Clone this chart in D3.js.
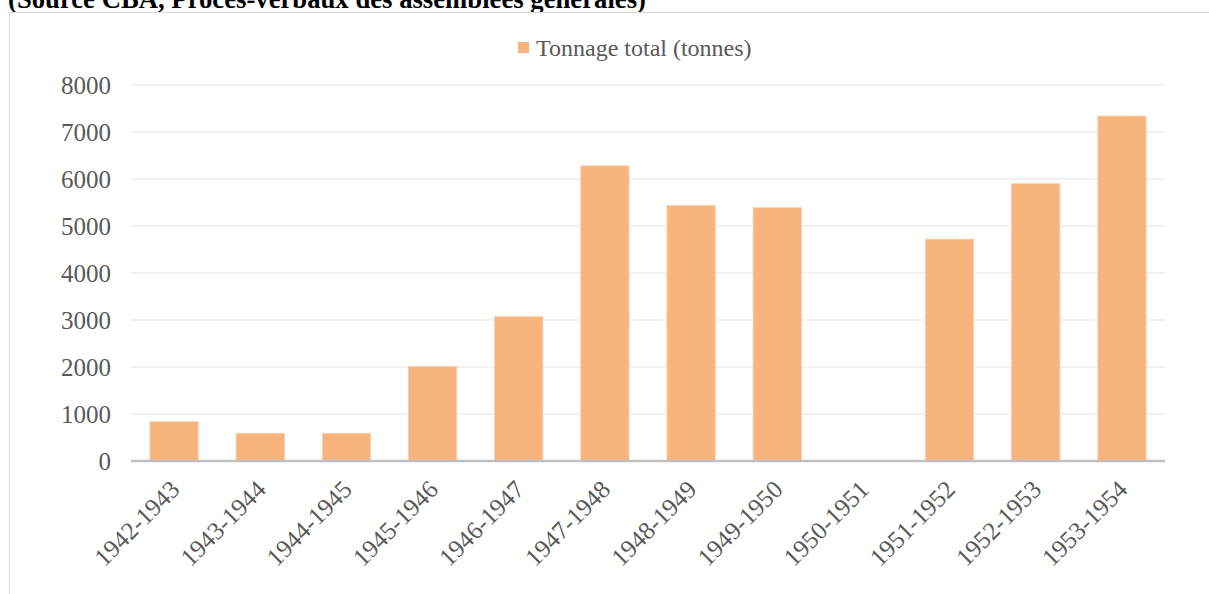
<!DOCTYPE html>
<html>
<head>
<meta charset="utf-8">
<script src="https://cdn.jsdelivr.net/npm/d3@7"></script>
<style>
  html, body { margin: 0; padding: 0; background: #ffffff; }
  svg { display: block; }
</style>
</head>
<body>
<svg id="chart" width="1209" height="594"></svg>
<script>
// Campaign years and total tonnage per campaign
const campaigns = ["1942-1943", "1943-1944", "1944-1945", "1945-1946", "1946-1947", "1947-1948",
                   "1948-1949", "1949-1950", "1950-1951", "1951-1952", "1952-1953", "1953-1954"];
const tonnage = [836, 590, 590, 2010, 3070, 6280, 5440, 5390, 0, 4720, 5900, 7340];
const yTicks = [0, 1000, 2000, 3000, 4000, 5000, 6000, 7000, 8000];
const seriesName = "Tonnage total (tonnes)";
const sourceNote = "(Source CBA, Procès-verbaux des assemblées générales)";

const svg = d3.select("#chart");
const serif = "'Liberation Serif', 'Times New Roman', serif";
const barColor = "#f7b47c";

// Source note, partly above the frame
svg.append("text")
  .attr("x", 8).attr("y", 8)
  .attr("font-family", serif).attr("font-weight", "bold")
  .attr("font-size", 26.7).attr("fill", "#000")
  .text(sourceNote);

// Chart frame
svg.append("rect")
  .attr("x", 9.5).attr("y", 12.5)
  .attr("width", 1210).attr("height", 600)
  .attr("fill", "#fff").attr("stroke", "#d9d9d9").attr("stroke-width", 1);

const plot = { left: 131, right: 1165, top: 85, bottom: 461 };

const x = d3.scaleBand()
  .domain(campaigns)
  .range([plot.left, plot.right])
  .paddingInner(0.44)
  .paddingOuter(0.22);

const y = d3.scaleLinear()
  .domain([0, 8000])
  .range([plot.bottom, plot.top]);

// Horizontal gridlines
svg.append("g")
  .selectAll("line")
  .data(yTicks.filter(d => d > 0))
  .join("line")
  .attr("x1", plot.left).attr("x2", plot.right)
  .attr("y1", d => y(d)).attr("y2", d => y(d))
  .attr("stroke", "#ededed").attr("stroke-width", 1.3);

// Y axis labels
const yAxis = d3.axisLeft(y).tickValues(yTicks).tickSize(0).tickPadding(20).tickFormat(d3.format("d"));
const gy = svg.append("g").attr("transform", `translate(${plot.left},0)`).call(yAxis);
gy.select(".domain").remove();
gy.selectAll("text")
  .attr("font-family", serif).attr("font-size", 25).attr("fill", "#595959");

// Bars
svg.append("g")
  .selectAll("rect")
  .data(campaigns.map((c, i) => ({ c, v: tonnage[i] })))
  .join("rect")
  .attr("x", d => x(d.c))
  .attr("width", x.bandwidth())
  .attr("y", d => y(d.v))
  .attr("height", d => y(0) - y(d.v))
  .attr("fill", barColor)
  .attr("stroke", "#fbd0ab").attr("stroke-width", 0.8);

// X axis baseline and rotated labels
const xAxis = d3.axisBottom(x).tickSize(0).tickPadding(0);
const gx = svg.append("g").attr("transform", `translate(0,${plot.bottom})`).call(xAxis);
gx.select(".domain").attr("stroke", "#bfbfbf").attr("stroke-width", 2.5)
  .attr("d", `M${plot.left},0H${plot.right}`);
gx.selectAll(".tick text")
  .attr("font-family", serif).attr("font-size", 25).attr("fill", "#595959")
  .attr("text-anchor", "end")
  .attr("dy", null)
  .attr("y", 0)
  .attr("transform", "translate(7,30) rotate(-45)");

// Legend
const legend = svg.append("g").attr("transform", "translate(518,42)");
legend.append("rect").attr("width", 11).attr("height", 11).attr("fill", barColor);
legend.append("text")
  .attr("x", 18).attr("y", 5.5).attr("dy", "0.35em")
  .attr("font-family", serif).attr("font-size", 24).attr("fill", "#595959")
  .text(seriesName);
</script>
</body>
</html>
